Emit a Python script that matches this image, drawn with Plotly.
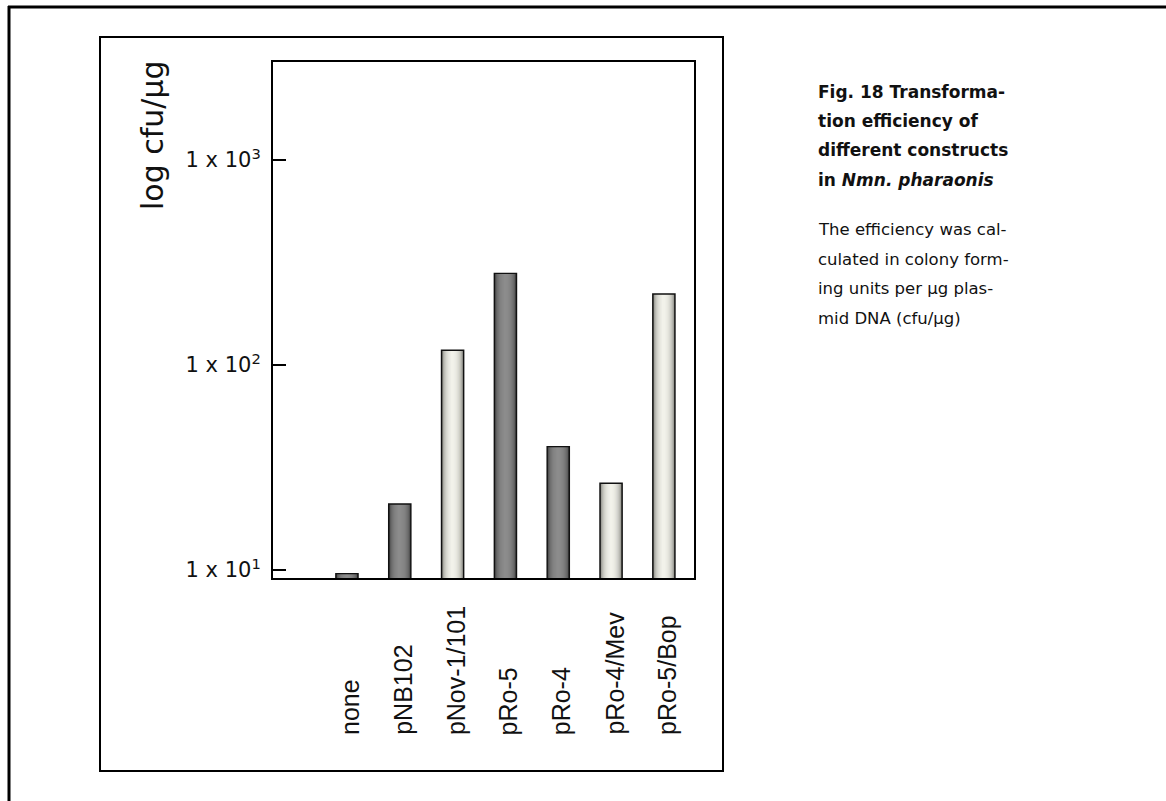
import plotly.graph_objects as go

# ---------------- data ----------------
categories = ["none", "pNB102", "pNov-1/101", "pRo-5", "pRo-4", "pRo-4/Mev", "pRo-5/Bop"]
values = [9.6, 21.0, 118, 280, 40, 26.5, 222]
shade = ["dark", "dark", "light", "dark", "dark", "light", "light"]
tick_vals = [10, 100, 1000]
tick_text = ["1 x 10<sup>1</sup>", "1 x 10<sup>2</sup>", "1 x 10<sup>3</sup>"]
y_title = "log cfu/µg"
caption_title = ["Fig. 18 Transforma-", "tion efficiency of", "different constructs",
                 "in <i>Nmn. pharaonis</i>"]
caption_body = ["The efficiency was cal-", "culated in colony form-",
                "ing units per µg plas-", "mid DNA (cfu/µg)"]

# ---------------- layout geometry (pixels) ----------------
W, H = 1166, 801
PL, PR, PT, PB = 273, 694, 62, 578


def fx(x):
    return (x - PL) / (PR - PL)


def fy(y):
    return (PB - y) / (PB - PT)


edge = {"dark": (50, 50, 50), "light": (100, 100, 94)}
center = {"dark": (140, 140, 140), "light": (242, 242, 234)}

fig = go.Figure()
BW = 0.42
N = 12
for i in range(N):
    r = 1 - i / N
    t = (1 - r * r) ** 0.5
    cols = []
    for s in shade:
        e, c = edge[s], center[s]
        rgb = tuple(int(round(e[k] + (c[k] - e[k]) * t)) for k in range(3))
        cols.append("rgb(%d,%d,%d)" % rgb)
    fig.add_trace(go.Bar(x=categories, y=values, width=BW * r,
                         marker=dict(color=cols, line=dict(width=0)),
                         hoverinfo="skip", showlegend=False))
fig.add_trace(go.Bar(x=categories, y=values, width=BW,
                     marker=dict(color="rgba(0,0,0,0)", line=dict(color="#111", width=1.4)),
                     hoverinfo="skip", showlegend=False))

annotations = []
annotations.append(dict(text=y_title, xref="paper", yref="paper", x=fx(152), y=fy(135),
                        textangle=-90, showarrow=False, xanchor="center", yanchor="middle",
                        font=dict(family="DejaVu Sans", size=30, color="#111")))
for c in categories:
    annotations.append(dict(text=c, xref="x", yref="paper", x=c, y=fy(737), xshift=3,
                            textangle=-90, showarrow=False, xanchor="center", yanchor="bottom",
                            font=dict(family="Liberation Sans", size=25, color="#111")))
ys1 = [92, 121, 150, 180]
for t, y in zip(caption_title, ys1):
    annotations.append(dict(text="<b>%s</b>" % t, xref="paper", yref="paper", x=fx(816), y=fy(y),
                            showarrow=False, xanchor="left", yanchor="middle",
                            font=dict(family="DejaVu Sans", size=17, color="#111")))
ys2 = [229, 259, 288, 318]
for t, y in zip(caption_body, ys2):
    annotations.append(dict(text=t, xref="paper", yref="paper", x=fx(816), y=fy(y),
                            showarrow=False, xanchor="left", yanchor="middle",
                            font=dict(family="DejaVu Sans", size=16.5, color="#111")))

shapes = [
    dict(type="line", xref="paper", yref="paper", x0=fx(8), x1=fx(1166), y0=fy(7), y1=fy(7),
         line=dict(color="black", width=3)),
    dict(type="line", xref="paper", yref="paper", x0=fx(9), x1=fx(9), y0=fy(6), y1=fy(801),
         line=dict(color="black", width=3)),
    dict(type="rect", xref="paper", yref="paper", x0=fx(100), x1=fx(723), y0=fy(771), y1=fy(37),
         line=dict(color="black", width=2)),
]

fig.update_layout(
    width=W, height=H, autosize=False,
    margin=dict(l=PL, r=W - PR, t=PT, b=H - PB),
    paper_bgcolor="white", plot_bgcolor="white",
    barmode="overlay",
    xaxis=dict(type="category", range=[-1.40, 6.57], showticklabels=False, ticks="",
               showline=True, mirror=True, linecolor="black", linewidth=2, showgrid=False,
               zeroline=False, fixedrange=True),
    yaxis=dict(type="log", range=[0.961, 3.478], tickvals=tick_vals, ticktext=tick_text,
               ticks="inside", ticklen=13, tickwidth=2, tickcolor="black",
               tickfont=dict(family="DejaVu Sans", size=21, color="#111"),
               ticklabelstandoff=6,
               showline=True, mirror=True, linecolor="black", linewidth=2, showgrid=False,
               zeroline=False, fixedrange=True),
    annotations=annotations, shapes=shapes,
)

fig.write_html("out.html", config={"displayModeBar": False},
               post_script="document.body.style.margin='0';document.body.style.overflow='hidden';")
